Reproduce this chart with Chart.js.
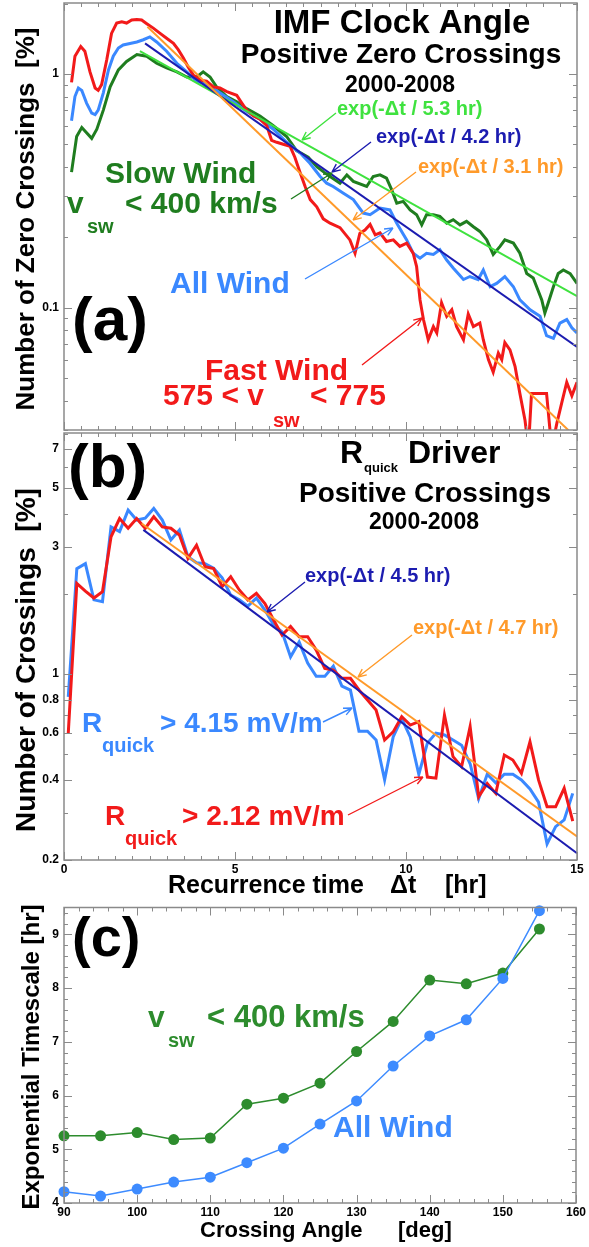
<!DOCTYPE html>
<html><head><meta charset="utf-8"><title>IMF Clock Angle</title>
<script src="https://cdn.jsdelivr.net/npm/chart.js@4.4.1/dist/chart.umd.min.js"></script>
<style>html,body{margin:0;padding:0;background:#fff}#wrap{position:relative;width:589px;height:1247px;overflow:hidden;background:#fff}canvas{position:absolute;left:0}</style>
</head><body><div id="wrap">
<canvas id="ca" width="589" height="432" style="top:0px"></canvas>
<canvas id="cb" width="589" height="470" style="top:432px"></canvas>
<canvas id="cc" width="589" height="345" style="top:902px"></canvas>
</div>
<script>
// ---------- Panel (a) data : IMF clock angle positive zero crossings ----------
const aRedT = [0.22,0.32,0.49,0.61,0.76,0.91,1.0,1.1,1.25,1.39,1.54,1.69,1.83,1.98,2.13,2.27,2.42,2.61,2.81,3.0,3.2,3.34,3.49,3.63,3.78,3.98,4.17,4.37,4.56,4.76,5.05,5.2,5.34,5.54,5.73,5.93,6.07,6.22,6.41,6.61,6.75,6.9,7.05,7.2,7.39,7.58,7.78,8.07,8.36,8.51,8.65,8.8,8.95,9.1,9.24,9.43,9.63,9.82,10.02,10.21,10.31,10.41,10.51,10.65,10.8,10.9,11.04,11.19,11.34,11.48,11.68,11.82,11.97,12.16,12.26,12.41,12.55,12.7,12.8,12.89,13.04,13.19,13.33,13.48,13.58,13.67,13.87,14.11,14.26,14.41,14.55,14.7,14.85,15.0];
const aRedV = [0.92,1.19,1.31,1.25,1.02,0.87,0.85,0.90,1.15,1.49,1.65,1.67,1.65,1.70,1.71,1.70,1.64,1.57,1.49,1.42,1.35,1.27,1.17,1.07,0.99,0.94,0.93,0.88,0.87,0.84,0.81,0.75,0.70,0.66,0.64,0.60,0.52,0.51,0.50,0.49,0.44,0.38,0.33,0.29,0.27,0.24,0.23,0.22,0.195,0.171,0.208,0.215,0.227,0.205,0.209,0.192,0.195,0.183,0.189,0.171,0.150,0.108,0.089,0.073,0.083,0.078,0.105,0.092,0.098,0.083,0.073,0.094,0.083,0.086,0.073,0.060,0.053,0.064,0.060,0.071,0.066,0.056,0.043,0.033,0.025,0.043,0.043,0.043,0.025,0.032,0.039,0.048,0.042,0.048];
const aBlueT = [0.22,0.32,0.42,0.52,0.66,0.81,0.91,1.0,1.15,1.3,1.44,1.59,1.73,1.93,2.13,2.32,2.51,2.71,3.0,3.3,3.59,3.88,4.17,4.56,4.95,5.34,5.73,6.12,6.51,6.9,7.19,7.49,7.68,7.87,8.17,8.46,8.75,8.95,9.24,9.53,9.73,10.02,10.21,10.41,10.6,10.8,10.99,11.19,11.38,11.68,11.87,12.11,12.26,12.46,12.65,12.89,13.14,13.33,13.63,13.92,14.11,14.31,14.5,14.7,14.85,15.0];
const aBlueV = [0.63,0.80,0.87,0.85,0.75,0.68,0.67,0.70,0.83,1.04,1.19,1.29,1.33,1.35,1.37,1.40,1.44,1.37,1.25,1.11,1.02,0.93,0.90,0.83,0.76,0.69,0.64,0.58,0.51,0.46,0.415,0.364,0.341,0.33,0.309,0.29,0.254,0.25,0.267,0.262,0.23,0.195,0.171,0.163,0.171,0.169,0.177,0.16,0.148,0.132,0.136,0.132,0.145,0.123,0.127,0.136,0.123,0.108,0.098,0.092,0.076,0.074,0.086,0.089,0.082,0.078];
const aGreenT = [0.22,0.37,0.52,0.66,0.81,0.96,1.15,1.35,1.59,1.83,2.13,2.42,2.71,3.0,3.3,3.59,3.88,4.07,4.27,4.46,4.76,5.05,5.34,5.73,6.12,6.51,6.8,7.14,7.4,7.6,7.78,8.07,8.27,8.46,8.85,9.04,9.24,9.43,9.58,9.73,9.92,10.12,10.31,10.46,10.6,10.8,10.99,11.19,11.38,11.58,11.77,11.97,12.16,12.36,12.55,12.75,12.89,13.14,13.33,13.43,13.53,13.72,13.82,13.97,14.06,14.16,14.31,14.45,14.6,14.8,15.0];
const aGreenV = [0.38,0.54,0.59,0.56,0.53,0.58,0.70,0.88,1.04,1.13,1.21,1.19,1.11,1.06,1.02,0.97,0.97,1.02,0.97,0.88,0.80,0.76,0.71,0.66,0.60,0.54,0.47,0.44,0.40,0.38,0.364,0.341,0.37,0.347,0.33,0.364,0.37,0.358,0.32,0.28,0.285,0.262,0.25,0.226,0.25,0.25,0.246,0.23,0.238,0.226,0.234,0.222,0.212,0.195,0.169,0.183,0.195,0.189,0.171,0.155,0.14,0.134,0.123,0.108,0.095,0.105,0.123,0.14,0.145,0.14,0.127];
// exponential fits (end points of straight lines on the log axis)
const aFitSlowT = [2.22, 15.0];  const aFitSlowV = [1.25, 0.112];   // exp(-t/5.3 hr)
const aFitAllT  = [2.37, 15.0];  const aFitAllV  = [1.35, 0.068];   // exp(-t/4.2 hr)
const aFitFastT = [2.44, 15.0];  const aFitFastV = [1.59, 0.0276];  // exp(-t/3.1 hr)
const aYTickLabels = [0.1, 1];

// ---------- Panel (b) data : R_quick driver positive crossings ----------
const bTimes = [0.125,0.375,0.625,0.875,1.125,1.375,1.625,1.875,2.125,2.375,2.625,2.875,3.125,3.375,3.625,3.875,4.125,4.375,4.625,4.875,5.125,5.375,5.625,5.875,6.125,6.375,6.625,6.875,7.125,7.375,7.625,7.875,8.125,8.375,8.625,8.875,9.125,9.375,9.625,9.875,10.125,10.375,10.625,10.875,11.125,11.375,11.625,11.875,12.125,12.375,12.625,12.875,13.125,13.375,13.625,13.875,14.125,14.375,14.625,14.875];
const bHighV = [0.82,2.49,2.60,1.90,1.87,3.57,3.43,4.13,3.79,3.85,4.19,3.79,3.19,3.48,2.76,2.62,2.60,2.50,2.30,1.98,1.90,1.80,1.93,1.74,1.53,1.44,1.16,1.32,1.10,0.98,0.98,1.07,0.90,0.87,0.61,0.61,0.565,0.40,0.58,0.68,0.58,0.42,0.55,0.60,0.59,0.565,0.54,0.46,0.34,0.42,0.39,0.42,0.42,0.40,0.37,0.33,0.23,0.267,0.283,0.356];
const bLowV = [0.60,2.19,2.05,1.93,2.04,3.28,3.84,3.53,3.84,3.53,3.90,3.57,3.53,3.33,2.72,3.05,2.53,2.49,2.13,2.32,2.07,1.90,2.01,1.84,1.60,1.40,1.51,1.38,1.38,1.23,1.05,1.035,0.963,0.963,0.871,0.798,0.732,0.565,0.606,0.691,0.643,0.662,0.41,0.406,0.701,0.489,0.448,0.634,0.346,0.388,0.356,0.496,0.475,0.423,0.556,0.40,0.317,0.317,0.372,0.28];
const bFitBlueT = [2.32, 15.0];   const bFitBlueV = [3.48, 0.212];   // exp(-t/4.5 hr)
const bFitOrangeT = [2.27, 15.0]; const bFitOrangeV = [3.68, 0.245]; // exp(-t/4.7 hr)
const bYTickLabels = [0.2, 0.4, 0.6, 0.8, 1, 3, 5, 7];
const xTickLabels = [0, 5, 10, 15];

// ---------- Panel (c) data : exponential timescale vs crossing angle ----------
const cAngles = [90,95,100,105,110,115,120,125,130,135,140,145,150,155];
const cSlowV  = [5.25,5.25,5.31,5.18,5.21,5.84,5.95,6.23,6.82,7.38,8.15,8.08,8.28,9.10];
const cAllV   = [4.21,4.13,4.26,4.39,4.48,4.75,5.02,5.47,5.90,6.55,7.11,7.41,8.18,9.44];
const cXTickLabels = [90,100,110,120,130,140,150,160];
const cYTickLabels = [4,5,6,7,8,9];

// ---------- styling ----------
const FONT = '"Liberation Sans", Arial, Helvetica, sans-serif';
const RED = '#f21a1a', BLUE = '#3a88ff', DKGREEN = '#1f7d1f', LTGREEN = '#3fe23f', DKBLUE = '#1c1cb0', ORANGE = '#ff9a2a';
const CGREEN = '#2d8c2d', CBLUE = '#3d8bff';
const AXC = '#8a8a8a';

function pairs(xs, ys) { return xs.map((x, i) => ({ x: x, y: ys[i] })); }
function linSteps(a, b, s) { const r = []; for (let v = a; v <= b + 1e-9; v += s) r.push(+v.toFixed(6)); return r; }
function logMinor(min, max, majors) {
  const r = [];
  for (let e = -3; e <= 2; e++) for (let m = 1; m <= 9; m++) {
    const v = +(m * Math.pow(10, e)).toPrecision(3);
    if (v >= min && v <= max && !majors.includes(v)) r.push(v);
  }
  return r;
}

function frameTicks(o) {
  return {
    id: 'frameTicks',
    afterDatasetsDraw(chart) {
      const ctx = chart.ctx, ca = chart.chartArea, x = chart.scales.x, y = chart.scales.y;
      ctx.save();
      ctx.strokeStyle = AXC; ctx.lineWidth = 1;
      ctx.beginPath();
      const tx = (vals, len) => vals.forEach(v => { const p = Math.round(x.getPixelForValue(v)) + 0.5; ctx.moveTo(p, ca.bottom); ctx.lineTo(p, ca.bottom - len); ctx.moveTo(p, ca.top); ctx.lineTo(p, ca.top + len); });
      const ty = (vals, len) => vals.forEach(v => { const p = Math.round(y.getPixelForValue(v)) + 0.5; ctx.moveTo(ca.left, p); ctx.lineTo(ca.left + len, p); ctx.moveTo(ca.right, p); ctx.lineTo(ca.right - len, p); });
      tx(o.xMajor, 8); tx(o.xMinor, 4); ty(o.yMajor, 8); ty(o.yMinor, 4);
      ctx.stroke();
      ctx.lineWidth = 1.5;
      ctx.strokeRect(ca.left, ca.top, ca.right - ca.left, ca.bottom - ca.top);
      ctx.restore();
    }
  };
}

function annot(top, texts, arrows) {
  return {
    id: 'annot',
    afterDraw(chart) {
      const ctx = chart.ctx;
      ctx.save();
      arrows.forEach(a => {
        const x1 = a[0], y1 = a[1] - top, x2 = a[2], y2 = a[3] - top;
        ctx.strokeStyle = a[4]; ctx.lineWidth = 1.4;
        ctx.beginPath(); ctx.moveTo(x1, y1); ctx.lineTo(x2, y2);
        const ang = Math.atan2(y2 - y1, x2 - x1), L = 9, s = 0.42;
        ctx.moveTo(x2, y2); ctx.lineTo(x2 - L * Math.cos(ang - s), y2 - L * Math.sin(ang - s));
        ctx.moveTo(x2, y2); ctx.lineTo(x2 - L * Math.cos(ang + s), y2 - L * Math.sin(ang + s));
        ctx.stroke();
      });
      texts.forEach(t => {
        ctx.font = 'bold ' + t.s + 'px ' + FONT;
        ctx.fillStyle = t.c || '#000';
        ctx.textAlign = t.a || 'left';
        ctx.textBaseline = t.rot ? 'middle' : 'alphabetic';
        if (t.rot) {
          ctx.save(); ctx.translate(t.x, t.y - top); ctx.rotate(-Math.PI / 2); ctx.fillText(t.t, 0, 0); ctx.restore();
        } else ctx.fillText(t.t, t.x, t.y - top);
      });
      ctx.restore();
    }
  };
}

const tickFont = { family: FONT, size: 12, weight: 'bold' };
function yAxis(type, min, max, labels) {
  return {
    type: type, min: min, max: max,
    afterFit: s => { s.width = 64; s.paddingTop = 0; s.paddingBottom = 0; },
    afterBuildTicks: s => { s.ticks = labels.map(v => ({ value: v })); },
    grid: { display: false, drawTicks: false }, border: { display: false },
    ticks: { autoSkip: false, padding: 5, color: '#000', font: tickFont, callback: v => String(v) }
  };
}
function xAxis(min, max, labels, h) {
  return {
    type: 'linear', min: min, max: max,
    afterFit: s => { s.height = h; s.paddingLeft = 0; s.paddingRight = 0; },
    afterBuildTicks: s => { s.ticks = labels.map(v => ({ value: v })); },
    grid: { display: false, drawTicks: false }, border: { display: false },
    ticks: { autoSkip: false, maxRotation: 0, padding: 2, color: '#000', font: tickFont, callback: v => String(v) }
  };
}
function line(data, color, w) {
  return { data: data, borderColor: color, backgroundColor: color, borderWidth: w, pointRadius: 0, tension: 0, fill: false };
}
const baseOpts = { responsive: false, animation: false, devicePixelRatio: 1, events: [],
  plugins: { legend: { display: false }, tooltip: { enabled: false } } };

// ---------- Panel (a) ----------
const aYMinor = logMinor(0.03, 2.01, aYTickLabels);
new Chart(document.getElementById('ca'), {
  type: 'line',
  data: { datasets: [
    line(pairs(aFitFastT, aFitFastV), ORANGE, 2),
    line(pairs(aFitAllT, aFitAllV), DKBLUE, 2),
    line(pairs(aFitSlowT, aFitSlowV), LTGREEN, 2),
    line(pairs(aRedT, aRedV), RED, 3),
    line(pairs(aBlueT, aBlueV), BLUE, 3),
    line(pairs(aGreenT, aGreenV), DKGREEN, 3)
  ] },
  options: Object.assign({}, baseOpts, {
    layout: { padding: { top: 3, right: 12, bottom: 2, left: 0 } },
    scales: { x: { type: 'linear', min: 0, max: 15, display: false }, y: yAxis('logarithmic', 0.03, 2.01, aYTickLabels) }
  }),
  plugins: [
    frameTicks({ xMajor: xTickLabels, xMinor: linSteps(0, 15, 0.5).filter(v => !xTickLabels.includes(v)), yMajor: aYTickLabels, yMinor: aYMinor }),
    annot(0, [
      { t: 'IMF Clock Angle', x: 402, y: 33, s: 33, a: 'center' },
      { t: 'Positive Zero Crossings', x: 401, y: 63, s: 28, a: 'center' },
      { t: '2000-2008', x: 400, y: 92, s: 23, a: 'center' },
      { t: 'exp(-\u0394t / 5.3 hr)', x: 337, y: 115, s: 20, c: LTGREEN },
      { t: 'exp(-\u0394t / 4.2 hr)', x: 376, y: 143, s: 20, c: DKBLUE },
      { t: 'exp(-\u0394t / 3.1 hr)', x: 418, y: 173, s: 20, c: ORANGE },
      { t: 'Slow Wind', x: 105, y: 183, s: 30, c: DKGREEN },
      { t: 'v', x: 67, y: 213, s: 30, c: DKGREEN },
      { t: 'sw', x: 87, y: 233, s: 20, c: DKGREEN },
      { t: '< 400 km/s', x: 125, y: 213, s: 30, c: DKGREEN },
      { t: 'All Wind', x: 170, y: 293, s: 30, c: BLUE },
      { t: '(a)', x: 72, y: 340, s: 62 },
      { t: 'Fast Wind', x: 205, y: 380, s: 30, c: RED },
      { t: '575 < v', x: 163, y: 405, s: 30, c: RED },
      { t: 'sw', x: 273, y: 427, s: 20, c: RED },
      { t: '< 775', x: 310, y: 405, s: 30, c: RED },
      { t: 'Number of Zero Crossings  [%]', x: 27, y: 219, s: 26, a: 'center', rot: true }
    ], [
      [336, 113, 302, 140, LTGREEN],
      [371, 142, 332, 172, DKBLUE],
      [416, 172, 353, 220, ORANGE],
      [291, 199, 332, 173, DKGREEN],
      [305, 279, 393, 228, BLUE],
      [362, 365, 422, 318, RED]
    ])
  ]
});

// ---------- Panel (b) ----------
new Chart(document.getElementById('cb'), {
  type: 'line',
  data: { datasets: [
    line(pairs(bFitOrangeT, bFitOrangeV), ORANGE, 2),
    line(pairs(bFitBlueT, bFitBlueV), DKBLUE, 2),
    line(pairs(bTimes, bLowV), RED, 3),
    line(pairs(bTimes, bHighV), BLUE, 3)
  ] },
  options: Object.assign({}, baseOpts, {
    layout: { padding: { top: 1, right: 12, bottom: 0, left: 0 } },
    scales: { x: xAxis(0, 15, xTickLabels, 42), y: yAxis('logarithmic', 0.2, 8.05, bYTickLabels) }
  }),
  plugins: [
    frameTicks({ xMajor: xTickLabels, xMinor: linSteps(0, 15, 0.5).filter(v => !xTickLabels.includes(v)), yMajor: bYTickLabels, yMinor: logMinor(0.2, 8.05, bYTickLabels) }),
    annot(432, [
      { t: '(b)', x: 68, y: 487, s: 62 },
      { t: 'R', x: 340, y: 463, s: 32 },
      { t: 'quick', x: 364, y: 472, s: 13 },
      { t: 'Driver', x: 408, y: 463, s: 32 },
      { t: 'Positive Crossings', x: 425, y: 502, s: 28, a: 'center' },
      { t: '2000-2008', x: 424, y: 529, s: 23, a: 'center' },
      { t: 'exp(-\u0394t / 4.5 hr)', x: 305, y: 582, s: 20, c: DKBLUE },
      { t: 'exp(-\u0394t / 4.7 hr)', x: 413, y: 634, s: 20, c: ORANGE },
      { t: 'R', x: 82, y: 732, s: 28, c: BLUE },
      { t: 'quick', x: 102, y: 752, s: 20, c: BLUE },
      { t: '> 4.15 mV/m', x: 160, y: 732, s: 28, c: BLUE },
      { t: 'R', x: 105, y: 825, s: 28, c: RED },
      { t: 'quick', x: 125, y: 845, s: 20, c: RED },
      { t: '> 2.12 mV/m', x: 182, y: 825, s: 28, c: RED },
      { t: 'Number of Crossings  [%]', x: 27, y: 660, s: 28, a: 'center', rot: true },
      { t: 'Recurrence time', x: 168, y: 893, s: 25 },
      { t: '\u0394t', x: 390, y: 893, s: 25 },
      { t: '[hr]', x: 445, y: 893, s: 25 }
    ], [
      [305, 582, 267, 612, DKBLUE],
      [412, 635, 358, 677, ORANGE],
      [323, 722, 352, 708, BLUE],
      [348, 815, 423, 777, RED]
    ])
  ]
});

// ---------- Panel (c) ----------
function ptLine(data, color) {
  return { data: data, borderColor: color, backgroundColor: color, borderWidth: 1.5, pointRadius: 5.5, pointBorderWidth: 0, pointBackgroundColor: color, tension: 0, fill: false, clip: false };
}
new Chart(document.getElementById('cc'), {
  type: 'line',
  data: { datasets: [
    ptLine(pairs(cAngles, cAllV), CBLUE),
    ptLine(pairs(cAngles, cSlowV), CGREEN)
  ] },
  options: Object.assign({}, baseOpts, {
    layout: { padding: { top: 3, right: 13, bottom: 0, left: 0 } },
    scales: { x: xAxis(90, 160, cXTickLabels, 44), y: yAxis('linear', 4, 9.5, cYTickLabels) }
  }),
  plugins: [
    frameTicks({ xMajor: cXTickLabels, xMinor: linSteps(90, 160, 2).filter(v => !cXTickLabels.includes(v)), yMajor: cYTickLabels, yMinor: linSteps(4, 9.5, 0.2).filter(v => !cYTickLabels.includes(v)) }),
    annot(902, [
      { t: '(c)', x: 72, y: 956, s: 56 },
      { t: 'v', x: 148, y: 1027, s: 30, c: CGREEN },
      { t: 'sw', x: 168, y: 1047, s: 20, c: CGREEN },
      { t: '< 400 km/s', x: 207, y: 1027, s: 31, c: CGREEN },
      { t: 'All Wind', x: 333, y: 1137, s: 30, c: CBLUE },
      { t: 'Exponential Timescale [hr]', x: 32, y: 1057, s: 24, a: 'center', rot: true },
      { t: 'Crossing Angle', x: 200, y: 1237, s: 22 },
      { t: '[deg]', x: 398, y: 1237, s: 22 }
    ], [])
  ]
});
</script></body></html>
